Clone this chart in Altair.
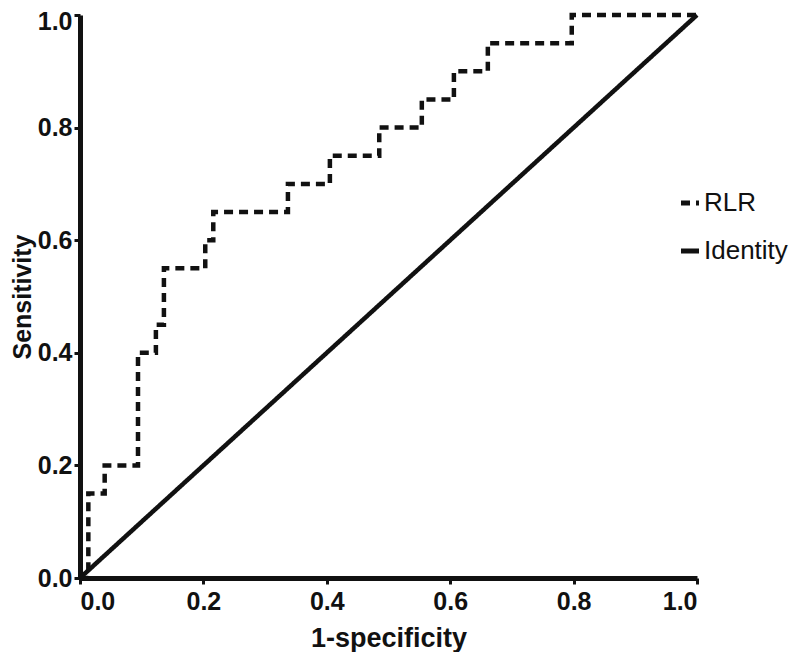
import altair as alt
import pandas as pd

# RLR ROC curve corner points (step-after)
fpr = [0.0, 0.0135, 0.04, 0.094, 0.123, 0.136, 0.203, 0.216, 0.337, 0.405, 0.485, 0.554, 0.606, 0.661, 0.797, 1.0]
tpr = [0.0, 0.15, 0.2, 0.4, 0.45, 0.55, 0.6, 0.65, 0.7, 0.75, 0.8, 0.85, 0.9, 0.95, 1.0, 1.0]
identity_x = [0.0, 1.0]
identity_y = [0.0, 1.0]
series = ["RLR", "Identity"]
ticks = [0.0, 0.2, 0.4, 0.6, 0.8, 1.0]

rlr = pd.DataFrame({"x": fpr, "y": tpr, "s": series[0]})
ident = pd.DataFrame({"x": identity_x, "y": identity_y, "s": series[1]})

font = "Liberation Sans, Arial, sans-serif"

xenc = alt.X("x:Q", scale=alt.Scale(domain=[0, 1], nice=False),
             axis=alt.Axis(title="1-specificity", values=ticks, format=".1f"))
yenc = alt.Y("y:Q", scale=alt.Scale(domain=[0, 1], nice=False),
             axis=alt.Axis(title="Sensitivity", values=ticks, format=".1f",
                           labelOffset={"expr": "datum.value == 1 ? 6 : 0"}))
dash = alt.StrokeDash("s:N", scale=alt.Scale(domain=series, range=[[9, 6], [1, 0]]),
                      legend=alt.Legend(title=None, orient="none", legendX=597, legendY=175,
                                        padding=0, symbolType="stroke", symbolSize=324,
                                        symbolStrokeWidth=5, symbolStrokeColor="#111",
                                        labelFontSize=26, labelFont=font, labelColor="#111",
                                        rowPadding=22, labelOffset=1))

l1 = alt.Chart(rlr).mark_line(interpolate="step-after", color="#111", strokeWidth=4.5).encode(
    x=xenc, y=yenc, strokeDash=dash)
l2 = alt.Chart(ident).mark_line(color="#111", strokeWidth=4.5).encode(
    x=xenc, y=yenc, strokeDash=dash)

chart = alt.layer(l1, l2).properties(
    width=617, height=563,
    autosize=alt.AutoSizeParams(type="none"),
    padding={"left": 72, "top": 7, "right": 95, "bottom": 74},
).configure_view(stroke=None).configure_axis(
    grid=False, domainColor="#111", domainWidth=5, tickColor="#111", tickWidth=3, tickSize=6,
    labelFont=font, labelFontSize=25, labelFontWeight="bold", labelColor="#111",
    titleFont=font, titleFontWeight="bold", titleColor="#111",
).configure_axisX(labelPadding=5, titlePadding=11, titleFontSize=27).configure_axisY(
    labelPadding=2, titlePadding=2, titleFontSize=25)

chart.save("out.html", embed_options={"renderer": "svg", "actions": False})
